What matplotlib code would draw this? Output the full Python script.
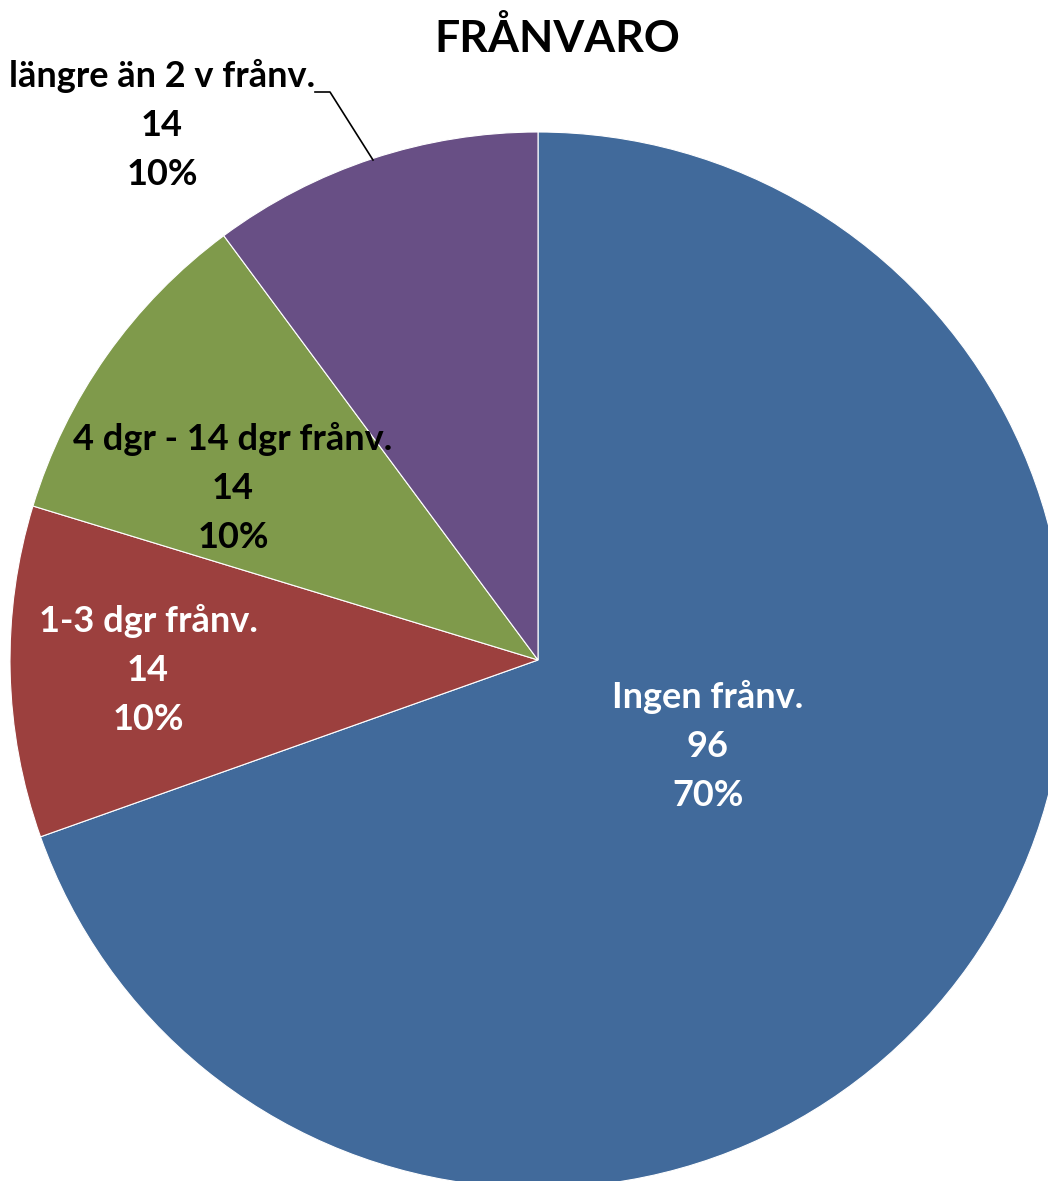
import numpy as np
import matplotlib.pyplot as plt

# chart data
categories = ['Ingen frånv.', '1-3 dgr frånv.', '4 dgr - 14 dgr frånv.', 'längre än 2 v frånv.']
values = [96, 14, 14, 14]
colors = ['#416A9B', '#9C403E', '#7F9A4B', '#684F85']
text_colors = ['white', 'white', 'black', 'black']
title = 'FRÅNVARO'

W, H = 1048, 1181
cx, cy, R = 538, 660, 528  # pie centre / radius in pixels

plt.rcParams['font.family'] = ['Lato', 'DejaVu Sans']

fig = plt.figure(figsize=(W / 100, H / 100), dpi=100)
ax = fig.add_axes([0, 0, 1, 1])
ax.axis('off')

wedges, _ = ax.pie(values, colors=colors, startangle=90, counterclock=False,
                   radius=1.0, center=(0, 0),
                   wedgeprops=dict(linewidth=0.8, edgecolor='white'))
ax.set_xlim(-cx / R, (W - cx) / R)
ax.set_ylim(-(H - cy) / R, cy / R)
ax.set_aspect('auto')

total = sum(values)
labels = ['%s\n%d\n%d%%' % (c, v, round(100 * v / total)) for c, v in zip(categories, values)]


def px(x, y):
    return ((x - cx) / R, (cy - y) / R)


label_pos = [(708, 746), (148, 670), (233, 488), (162, 125)]
for lab, pos, tc in zip(labels, label_pos, text_colors):
    ax.text(*px(*pos), lab, ha='center', va='center', color=tc,
            fontsize=26, fontweight='bold', linespacing=1.58)

# leader line for the outside label
lx = [px(315, 92)[0], px(330, 92)[0], px(373, 160)[0]]
ly = [px(315, 92)[1], px(330, 92)[1], px(373, 160)[1]]
ax.plot(lx, ly, color='black', lw=1.2)

ax.text(*px(557, 38), title, ha='center', va='center', fontsize=32,
        fontweight='bold', color='black')

fig.savefig('out.png', dpi=100)
